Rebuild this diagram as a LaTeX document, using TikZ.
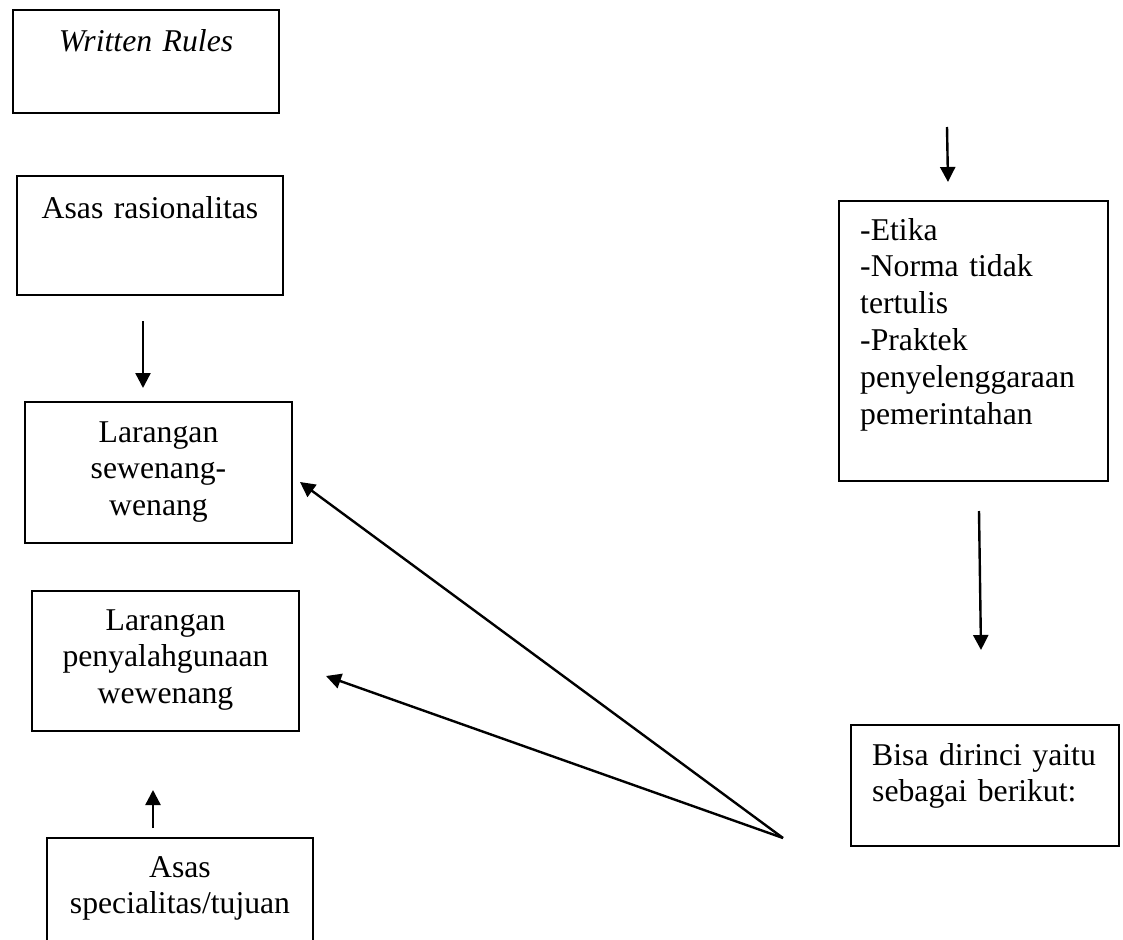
\documentclass[tikz,border=0pt]{standalone}
\usepackage{fontspec}
\setmainfont{Liberation Serif}
\usetikzlibrary{arrows.meta}
\begin{document}
\begin{tikzpicture}[x=1pt,y=-1pt,
  box/.style={draw, line width=2.1pt, inner sep=0pt},
  txt/.style={inner sep=0pt, font=\fontsize{31.7}{36.8}\selectfont,
              text width=300pt, align=center, anchor=base},
  ltxt/.style={inner sep=0pt, font=\fontsize{31.7}{36.8}\selectfont,
              text width=260pt, align=left, anchor=base west},
  arr/.style={line width=2.4pt, -{Triangle[length=15pt,width=15pt]}}]

% page frame
\path[use as bounding box] (0,0) rectangle (1123,939);
\clip (0,0) rectangle (1123,939);

% left column of boxes
\node[box, minimum width=266pt, minimum height=103pt] (wr) at (146,61.5) {};
\node[txt] (wr-t) at (146,52) {\itshape Written Rules};

\node[box, minimum width=266pt, minimum height=119pt] (rs) at (150,235.5) {};
\node[txt] (rs-t) at (150,218) {Asas rasionalitas};

\node[box, minimum width=267pt, minimum height=141pt] (ls) at (158.5,472.5) {};
\node[txt] (ls-t) at (158.5,442) {Larangan\\sewenang-\\wenang};

\node[box, minimum width=267pt, minimum height=140pt] (lp) at (165.5,661) {};
\node[txt] (lp-t) at (165.5,630) {Larangan\\penyalahgunaan\\wewenang};

\node[box, minimum width=266pt, minimum height=140pt] (sp) at (180,908) {};
\node[txt] (sp-t) at (180,877) {Asas\\specialitas/tujuan};

% right column of boxes
\node[box, minimum width=269pt, minimum height=280pt] (et) at (973.5,341) {};
\node[ltxt] (et-t) at (860,240) {-Etika\\-Norma tidak\\tertulis\\-Praktek\\penyelenggaraan\\pemerintahan};

\node[box, minimum width=268pt, minimum height=121pt] (bd) at (985,785.5) {};
\node[ltxt] (bd-t) at (872,765) {Bisa dirinci yaitu\\sebagai berikut:};

% free ends of the connectors
\coordinate (a1s) at (143,321);
\coordinate (a1e) at (143,388);
\coordinate (a2s) at (153,828);
\coordinate (a2e) at (153,790);
\coordinate (a3s) at (947,127);
\coordinate (a3e) at (948,182);
\coordinate (a4s) at (979,511);
\coordinate (a4e) at (981,650);
\coordinate (fork) at (783,838);
\coordinate (t1) at (300,482);
\coordinate (t2) at (326,676);

% connectors
\draw[arr] (a1s) -- (a1e);
\draw[arr] (a2s) -- (a2e);
\draw[arr] (a3s) -- (a3e);
\draw[arr] (a4s) -- (a4e);
\draw[arr] (fork) -- (t1);
\draw[arr] (fork) -- (t2);
\end{tikzpicture}
\end{document}
